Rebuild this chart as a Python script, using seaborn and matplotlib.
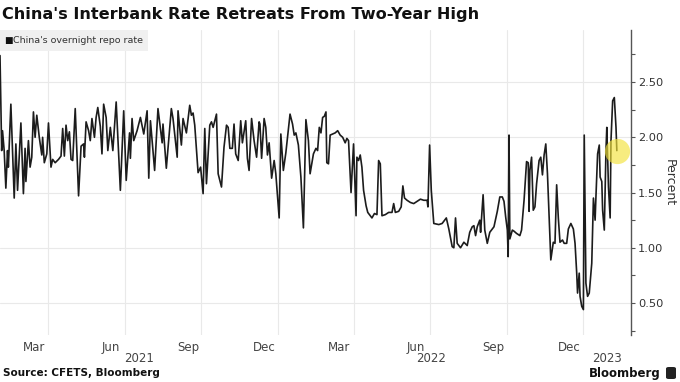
import matplotlib
matplotlib.use("Agg")
import matplotlib.pyplot as plt
import matplotlib.dates as mdates
from matplotlib.ticker import MultipleLocator, FormatStrFormatter, NullFormatter
from matplotlib.patches import Rectangle, FancyBboxPatch
import pandas as pd
import seaborn as sns

# China's overnight repo rate (days counted from start_date)
start_date = "2021-02-02"
day_offset = [
    0, 2, 3, 5, 7, 9, 10, 13, 17, 19, 21, 25, 28, 30, 31, 34, 36, 38, 40, 42,
    44, 47, 50, 51, 53, 56, 58, 61, 63, 66, 70, 73, 75, 77, 79, 81, 83, 85, 87, 90,
    94, 97, 100, 101, 103, 106, 108, 110, 113, 115, 117, 120, 122, 124, 127, 129,
    132, 135, 139, 144, 148, 151, 155, 156, 158, 160, 164, 168, 172, 176, 178, 180,
    185, 189, 194, 195, 199, 205, 207, 212, 213, 217, 219, 223, 227, 229, 231, 233,
    237, 240, 243, 245, 247, 251, 253, 255, 259, 261, 265, 268, 271,
    273, 275, 278, 280, 282, 285, 288, 290, 291, 294, 296, 298, 301, 304, 307, 310,
    311, 313, 316, 318, 320, 322, 325, 328, 330, 334, 336, 339, 342, 347, 350, 352,
    354, 357, 360, 363, 366, 369, 371, 375, 378, 380, 382, 384, 386, 388, 390, 391,
    393, 395, 398, 401, 404, 407, 410, 413, 415, 417, 420, 423, 426, 427, 429, 431,
    433, 435, 438, 440, 443, 445, 448, 451, 453, 455, 457, 461, 465, 469, 471, 473,
    477, 480, 482, 484, 487, 491, 495, 499, 503, 507, 511, 512, 514, 515, 516,
    519, 525, 529, 534, 537, 541, 543, 545, 547, 551, 555, 559, 562, 565, 567, 569,
    571, 574, 575, 578, 580, 583, 586, 589, 591, 595, 598, 601, 603, 605, 607, 608,
    609, 610, 613, 615, 618, 622, 624, 627, 630, 632, 633, 634, 636, 638, 640, 642,
    645, 647, 649, 651, 653, 655, 658, 659, 662, 664, 666, 668, 670, 673, 675, 678,
    680, 683, 686, 688, 690, 691, 693, 694, 696, 698, 699, 701, 703, 705, 708, 710,
    712, 713, 715, 717, 718, 720, 721, 723, 725, 726, 728, 730, 731, 733, 735, 737, 738,
]
repo_rate = [
    2.74, 1.88, 2.06, 1.88, 1.54, 1.88, 1.73, 2.30, 1.45, 1.94, 1.52, 2.13, 1.49, 1.90, 1.60, 1.97, 1.73, 1.82, 2.23, 2.00,
    2.20, 2.00, 1.84, 2.00, 1.77, 1.85, 2.13, 1.73, 1.80, 1.77, 1.80, 1.83, 2.08, 1.83, 2.11, 1.97, 2.05, 1.80, 1.79, 2.26,
    1.47, 1.92, 1.94, 1.82, 2.14, 2.06, 1.97, 2.17, 2.00, 2.18, 2.27, 2.10, 1.85, 2.30, 2.18, 1.88,
    2.09, 1.88, 2.32, 1.52, 2.24, 1.61, 2.04, 1.81, 2.17, 1.97, 2.06, 2.18, 2.03, 2.24, 1.63, 2.15,
    1.70, 2.26, 1.95, 2.12, 1.72, 2.26, 2.17, 1.82, 2.24, 1.93, 2.17, 2.04, 2.29, 2.20, 2.22, 2.11,
    1.68, 1.73, 1.49, 2.08, 1.58, 2.11, 2.14, 2.09, 2.21, 1.67, 1.55, 1.91, 2.11,
    2.09, 1.90, 1.90, 2.12, 1.85, 1.79, 2.15, 1.95, 2.00, 2.15, 1.81, 1.70, 2.17, 1.97, 1.82, 2.14,
    2.12, 1.81, 2.17, 2.09, 1.84, 1.95, 1.63, 1.79, 1.67, 1.27, 2.03, 1.70, 1.86, 2.21, 2.12, 2.02,
    2.04, 1.93, 1.64, 1.18, 2.16, 1.97, 1.67, 1.85, 1.90, 1.88, 2.09, 2.04, 2.18, 2.19, 2.23, 1.77,
    1.76, 2.02, 2.03, 2.04, 2.06, 2.02, 2.00, 1.95, 1.99, 1.97, 1.50, 1.94, 1.29, 1.82, 1.79, 1.84,
    1.73, 1.52, 1.38, 1.32, 1.29, 1.27, 1.31, 1.30, 1.79, 1.76, 1.29, 1.30, 1.32, 1.32, 1.40, 1.32,
    1.33, 1.37, 1.56, 1.45, 1.43, 1.41, 1.40, 1.42, 1.44, 1.43, 1.43, 1.37, 1.93, 1.73, 1.52,
    1.22, 1.21, 1.22, 1.27, 1.17, 1.01, 1.00, 1.27, 1.04, 1.00, 1.05, 1.02, 1.14, 1.19, 1.20, 1.11,
    1.19, 1.25, 1.14, 1.48, 1.16, 1.04, 1.14, 1.17, 1.19, 1.33, 1.46, 1.46, 1.42, 1.28, 1.16, 0.92,
    2.02, 1.08, 1.16, 1.15, 1.13, 1.11, 1.16, 1.43, 1.78, 1.77, 1.33, 1.70, 1.82, 1.34, 1.37, 1.58,
    1.79, 1.82, 1.66, 1.84, 1.94, 1.67, 1.10, 0.89, 1.05, 1.04, 1.57, 1.27, 1.05, 1.07, 1.04, 1.04,
    1.17, 1.22, 1.17, 1.04, 0.77, 0.59, 0.77, 0.56, 0.47, 0.44, 2.02, 0.68, 0.56, 0.59, 0.86, 1.45,
    1.25, 1.46, 1.85, 1.93, 1.64, 1.60, 1.34, 1.16, 1.88, 2.09, 1.55, 1.27, 1.97, 2.33, 2.36, 2.09, 1.88,
]

title = "China's Interbank Rate Retreats From Two-Year High"
legend_label = "China's overnight repo rate"
source = "Source: CFETS, Bloomberg"
years = [2021, 2022, 2023]

df = pd.DataFrame({
    "date": pd.to_datetime(start_date) + pd.to_timedelta(day_offset, unit="D"),
    "rate": repo_rate,
})

sns.set_theme(style="white")
plt.rcParams["font.family"] = ["DejaVu Sans"]

fig = plt.figure(figsize=(6.8, 3.82), dpi=100)
ax = fig.add_axes([0.0, 0.123, 0.928, 0.798])

sns.lineplot(data=df, x="date", y="rate", ax=ax, color="#1c1c1c",
             linewidth=1.2, estimator=None)
ax.scatter(df["date"].iloc[-1], df["rate"].iloc[-1], s=330, color="#f3e33a",
           alpha=0.65, linewidths=0, zorder=5)

x_left = pd.Timestamp("2021-02-02")
x_right = pd.Timestamp("2023-02-27")
ax.set_xlim(x_left, x_right)
ax.set_ylim(0.21, 2.97)

# y axis on the right
ax.yaxis.tick_right()
ax.yaxis.set_label_position("right")
ax.yaxis.set_major_locator(MultipleLocator(0.5))
ax.yaxis.set_minor_locator(MultipleLocator(0.25))
ax.yaxis.set_major_formatter(FormatStrFormatter("%.2f"))
ax.tick_params(axis="y", which="both", right=True, direction="out", length=3,
               width=0.8, color="#555555", labelsize=8.2, labelcolor="#333333", pad=2)
ax.set_ylabel("Percent", rotation=270, labelpad=9, fontsize=9, color="#333333")

# x axis: gridlines at quarter starts, month names mid-month
ax.xaxis.set_major_locator(mdates.MonthLocator(bymonth=[1, 4, 7, 10]))
ax.xaxis.set_major_formatter(NullFormatter())
ax.xaxis.set_minor_locator(mdates.MonthLocator(bymonth=[3, 6, 9, 12], bymonthday=15))
ax.xaxis.set_minor_formatter(mdates.DateFormatter("%b"))
ax.tick_params(axis="x", which="both", length=0, labelsize=8.5,
               labelcolor="#444444", pad=4)
ax.set_xlabel("")

ax.grid(True, which="major", color="#e9e9e9", linewidth=0.8)
for side in ["top", "left", "bottom"]:
    ax.spines[side].set_visible(False)
ax.spines["right"].set_color("#555555")
ax.spines["right"].set_linewidth(1.0)

# year labels centred on each visible year
for yr in years:
    a = max(pd.Timestamp(f"{yr}-01-01"), x_left)
    b = min(pd.Timestamp(f"{yr + 1}-01-01"), x_right)
    ax.text(a + (b - a) / 2, -0.078, str(yr), transform=ax.get_xaxis_transform(),
            ha="center", va="center", fontsize=8.5, color="#444444")

# title, legend box, footer
fig.text(0.003, 0.963, title, fontsize=11.6, fontweight="bold", va="center", color="#111111")
fig.patches.append(Rectangle((0.0, 1 - 51 / 382), 148 / 680, 21 / 382,
                             transform=fig.transFigure, facecolor="#f0f0f0",
                             edgecolor="none", zorder=1))
fig.text(4 / 680, 1 - 40.5 / 382, "\u25a0", fontsize=6.5, va="center", color="#111111")
fig.text(13 / 680, 1 - 40.5 / 382, legend_label, fontsize=6.8, va="center", color="#333333")
fig.text(3 / 680, 1 - 373 / 382, source, fontsize=7.5, fontweight="bold",
         va="center", color="#111111")
fig.text(661 / 680, 1 - 373 / 382, "Bloomberg", fontsize=8.5, fontweight="bold",
         ha="right", va="center", color="#111111")
fig.patches.append(FancyBboxPatch((666 / 680, 1 - 379 / 382), 10 / 680, 12 / 382,
                                  boxstyle="round,pad=0,rounding_size=0.004",
                                  transform=fig.transFigure, facecolor="#222222",
                                  edgecolor="none", zorder=1))

plt.savefig("out.png", dpi=100)
